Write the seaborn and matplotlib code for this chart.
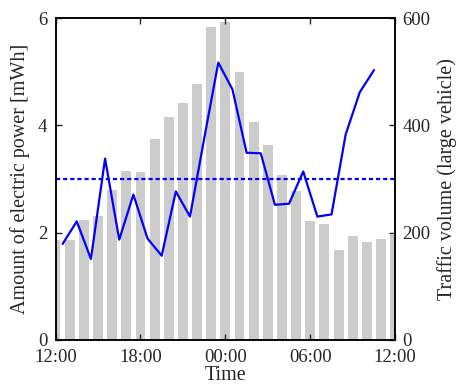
import matplotlib
matplotlib.use("Agg")
import matplotlib.pyplot as plt
import seaborn as sns
import pandas as pd

# Hourly large-vehicle counts (bars) from 12:00 to 12:00 the next day
traffic_hours = [12, 13, 14, 15, 16, 17, 18, 19, 20, 21, 22, 23, 24,
                 25, 26, 27, 28, 29, 30, 31, 32, 33, 34, 35, 36]
traffic_volume = [187, 186, 224, 232, 280, 315, 314, 374, 415, 442, 478, 584, 593,
                  500, 406, 364, 307, 277, 221, 217, 168, 193, 183, 189, 198]

# Generated electric power, sampled at the middle of each hour
power_hours = [12.5, 13.5, 14.5, 15.5, 16.5, 17.5, 18.5, 19.5, 20.5, 21.5, 22.5, 23.5,
               24.5, 25.5, 26.5, 27.5, 28.5, 29.5, 30.5, 31.5, 32.5, 33.5, 34.5]
power_mwh = [1.79, 2.21, 1.51, 3.38, 1.87, 2.71, 1.89, 1.57, 2.77, 2.30, 3.75, 5.17,
             4.67, 3.49, 3.48, 2.52, 2.54, 3.14, 2.30, 2.34, 3.83, 4.62, 5.03]

tick_hours = [12, 18, 24, 30, 36]
tick_labels = ["12:00", "18:00", "00:00", "06:00", "12:00"]

traffic_df = pd.DataFrame({"hour": traffic_hours, "volume": traffic_volume})
power_df = pd.DataFrame({"hour": power_hours, "power": power_mwh})

sns.set_style("ticks")
plt.rcParams["font.family"] = ["Liberation Serif", "DejaVu Serif"]
plt.rcParams["axes.linewidth"] = 1.1

TICK_SIZE = 13.5
LABEL_SIZE = 14.5

fig = plt.figure(figsize=(4.59, 3.85), dpi=100)
ax = fig.add_axes([0.121, 0.117, 0.740, 0.836])
ax2 = ax.twinx()

# Traffic bars on the secondary axis, kept behind the power curve
sns.barplot(data=traffic_df, x="hour", y="volume", native_scale=True, width=0.7,
            color="#cccccc", saturation=1, edgecolor="none", ax=ax2)
ax.set_zorder(ax2.get_zorder() + 1)
ax.patch.set_visible(False)

sns.lineplot(data=power_df, x="hour", y="power", color="#0000ff", linewidth=1.6, ax=ax)
ax.axhline(power_df["power"].mean(), color="#0000ff", linewidth=1.6,
           linestyle=(0, (1.9, 1.3)))

ax.set_xlim(12, 36)
ax.set_ylim(0, 6)
ax2.set_ylim(0, 600)
ax.set_xticks(tick_hours)
ax.set_xticklabels(tick_labels)
ax.set_yticks([0, 2, 4, 6])
ax2.set_yticks([0, 200, 400, 600])

ax.set_xlabel("Time", fontsize=LABEL_SIZE, labelpad=0)
ax.set_ylabel("Amount of electric power [mWh]", fontsize=LABEL_SIZE, labelpad=5.5)
ax2.set_ylabel("Traffic volume (large vehicle)", fontsize=LABEL_SIZE, labelpad=5)

ax.tick_params(axis="x", direction="in", top=True, length=4, width=1,
               labelsize=TICK_SIZE, pad=6.5)
ax.tick_params(axis="y", direction="in", length=4, width=1, labelsize=TICK_SIZE, pad=6)
ax2.tick_params(axis="y", direction="in", length=4, width=1, labelsize=TICK_SIZE, pad=5)

for a in (ax, ax2):
    for s in a.spines.values():
        s.set_color("black")
        s.set_visible(True)

fig.savefig("out.png", dpi=100)
